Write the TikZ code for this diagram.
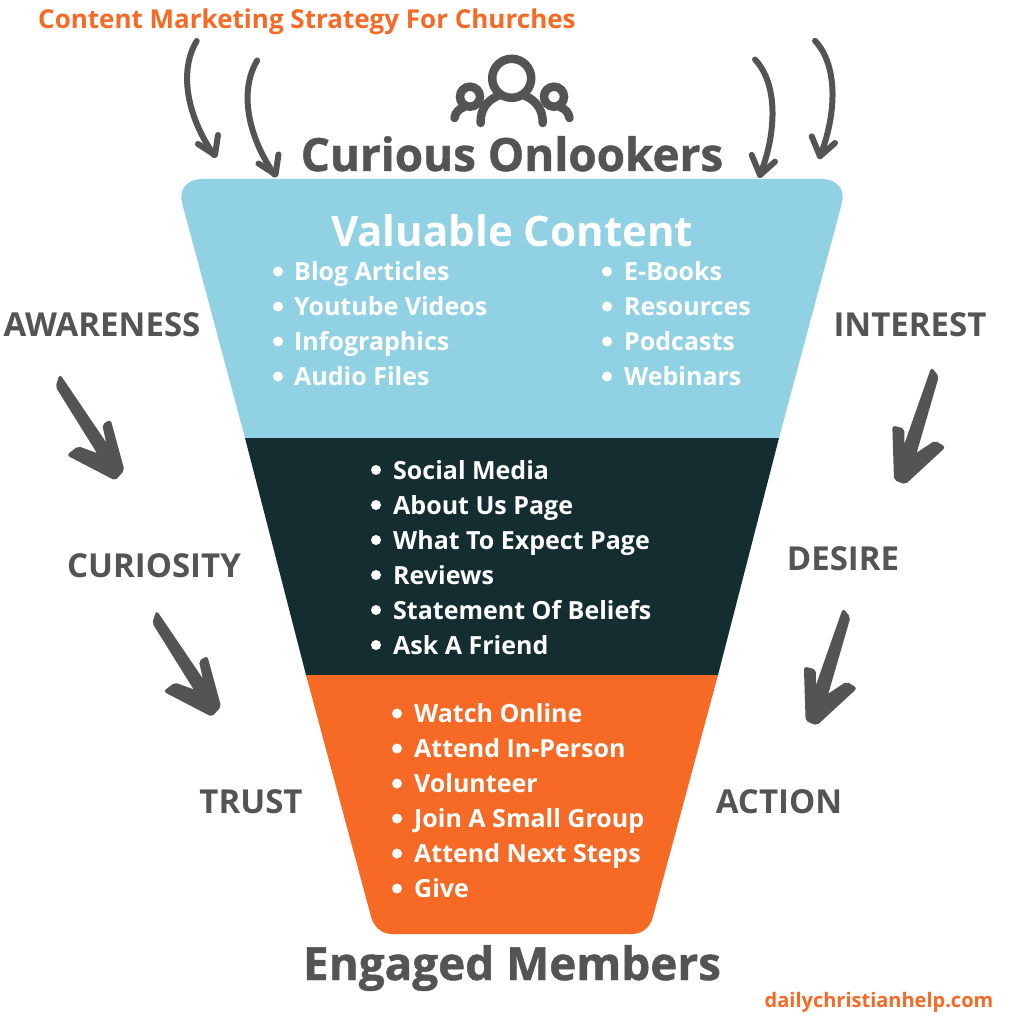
\documentclass[tikz,border=0pt]{standalone}
\usepackage{fontspec}
\setmainfont{Open Sans}
\newfontfamily\heavyfont{Open Sans}[BoldFeatures={FakeBold=1}]
\usetikzlibrary{positioning}
\definecolor{cblue}{HTML}{90D1E4}
\definecolor{cdark}{HTML}{142D31}
\definecolor{corange}{HTML}{F66A25}
\definecolor{cgray}{HTML}{545454}
\tikzset{
  headtext/.style={font=\heavyfont\bfseries\fontsize{45.8}{45.8}\selectfont,text=cgray,inner sep=0pt,anchor=base},
  stagetext/.style={font=\bfseries\fontsize{33}{33}\selectfont,text=cgray,inner sep=0pt,anchor=base},
  itemtext/.style={font=\bfseries\fontsize{25}{25}\selectfont,text=white,inner sep=0pt,anchor=base west},
  thinarrow/.style={draw=cgray,line width=6pt,line cap=round,line join=round},
  thickarrow/.style={fill=cgray,draw=cgray,line width=2pt,rounded corners=2pt},
}
\begin{document}
\begin{tikzpicture}[x=1pt,y=-1pt]
    \useasboundingbox (0,0) rectangle (1024,1024);
    \fill[white] (0,0) rectangle (1024,1024);
    % ---- funnel
    \fill[cblue] (245,438) -- (182.6,205) .. controls (178,190) and (186,179) .. (203,179) -- (821,179)
      .. controls (838,179) and (846,190) .. (841.4,205) -- (779,438) -- cycle;
    \fill[cdark] (245,438) -- (779,438) -- (718,675) -- (306,675) -- cycle;
    \fill[corange] (306,675) -- (718,675) -- (652.6,918) .. controls (649.5,928) and (642,934) .. (632,934)
      -- (392,934) .. controls (382,934) and (375,928) .. (371.4,918) -- cycle;
    % ---- heading texts
    \node[font=\bfseries\fontsize{26}{26}\selectfont,text=corange,inner sep=0pt,anchor=base west] (title) at (38,29) {Content Marketing Strategy For Churches};
    \node[headtext] (onlookers) at (512,171) {Curious Onlookers};
    \node[font=\bfseries\fontsize{42}{42}\selectfont,text=white,inner sep=0pt,anchor=base] (content) at (512,246) {Valuable Content};
    \node[headtext] (members) at (512,980) {Engaged Members};
    \node[font=\bfseries\fontsize{20}{20}\selectfont,text=corange,inner sep=0pt,anchor=base west] (site) at (764.5,1007) {dailychristianhelp.com};
    % ---- stage labels
    \node[stagetext] (awareness) at (102,336) {AWARENESS};
    \node[stagetext] (interest) at (910,336) {INTEREST};
    \node[stagetext] (curiosity) at (154,577) {CURIOSITY};
    \node[stagetext] (desire) at (843,570) {DESIRE};
    \node[stagetext] (trust) at (251,813) {TRUST};
    \node[stagetext] (action) at (779,813) {ACTION};
    % ---- bullet lists
    \foreach \t [count=\i from 0] in {Blog Articles,Youtube Videos,Infographics,Audio Files}{
      \fill[white] (278,271.5+\i*35) circle (5);
      \node[itemtext] (blue\i) at (294,280.5+\i*35) {\t};}
    \foreach \t [count=\i from 0] in {E-Books,Resources,Podcasts,Webinars}{
      \fill[white] (607,271.5+\i*35) circle (5);
      \node[itemtext] (res\i) at (624,280.5+\i*35) {\t};}
    \foreach \t [count=\i from 0] in {Social Media,About Us Page,What To Expect Page,Reviews,Statement Of Beliefs,Ask A Friend}{
      \fill[white] (376,470+\i*35) circle (5);
      \node[itemtext] (dark\i) at (393,479+\i*35) {\t};}
    \foreach \t [count=\i from 0] in {Watch Online,Attend In-Person,Volunteer,Join A Small Group,Attend Next Steps,Give}{
      \fill[white] (397,713.5+\i*35) circle (5);
      \node[itemtext] (orange\i) at (414,722.5+\i*35) {\t};}
    % ---- thin curved arrows
    \foreach \dx/\dy in {0/0,60.5/19.5}{
      \begin{scope}[shift={(\dx,\dy)}]
        \draw[thinarrow] (196.7,41) .. controls (178,72) and (188,118) .. (214,155);
        \draw[thinarrow] (198,144) -- (215,155) -- (218,135);
      \end{scope}}
    \foreach \dx/\dy in {0/0,60/-18.7}{
      \begin{scope}[shift={(\dx,\dy)}]
        \draw[thinarrow] (755,59.5) .. controls (779,85) and (776,135) .. (760,175);
        \draw[thinarrow] (751.7,155) -- (760,175) -- (775,161.7);
      \end{scope}}
    % ---- thick arrows on the left
    \foreach \dx/\dy in {0/0,96.7/236.3}{
      \path[thickarrow,shift={(\dx,\dy)}] (60,376) -- (56.7,386.7) -- (99.3,455) -- (78.3,447.3) -- (68.3,455)
        -- (115,479.3) -- (123.3,470) -- (110,421) -- (103.3,425) -- (108.3,447.3) -- cycle;}
    % ---- thick arrows on the right
    \foreach \dx/\dy in {0/0,-88.4/241}{
      \path[thickarrow,shift={(\dx,\dy)}] (931.7,369) -- (937.7,376.7) -- (915,455) -- (935,441.7) -- (944,447.3)
        -- (905,483.3) -- (895,479.3) -- (893.3,426.7) -- (903.3,429.3) -- (903.3,450) -- cycle;}
    % ---- people icon
    \draw[cgray,line width=8.5pt] (511.7,78.3) circle (19.5);
    \draw[cgray,line width=8.5pt] (470,96.7) circle (10) (554,96.7) circle (10);
    \draw[cgray,line width=8.5pt,line cap=round] (480.7,123) .. controls (480,105) and (492,98) .. (500,95);
    \draw[cgray,line width=8.5pt,line cap=round] (542.7,123) .. controls (543,105) and (531,98) .. (523,95);
    \draw[cgray,line width=8.5pt,line cap=round] (454.5,118) .. controls (455.5,112) and (459,109) .. (464,107);
    \draw[cgray,line width=8.5pt,line cap=round] (569.5,118) .. controls (568.5,112) and (565,109) .. (560,107);
\end{tikzpicture}
\end{document}
